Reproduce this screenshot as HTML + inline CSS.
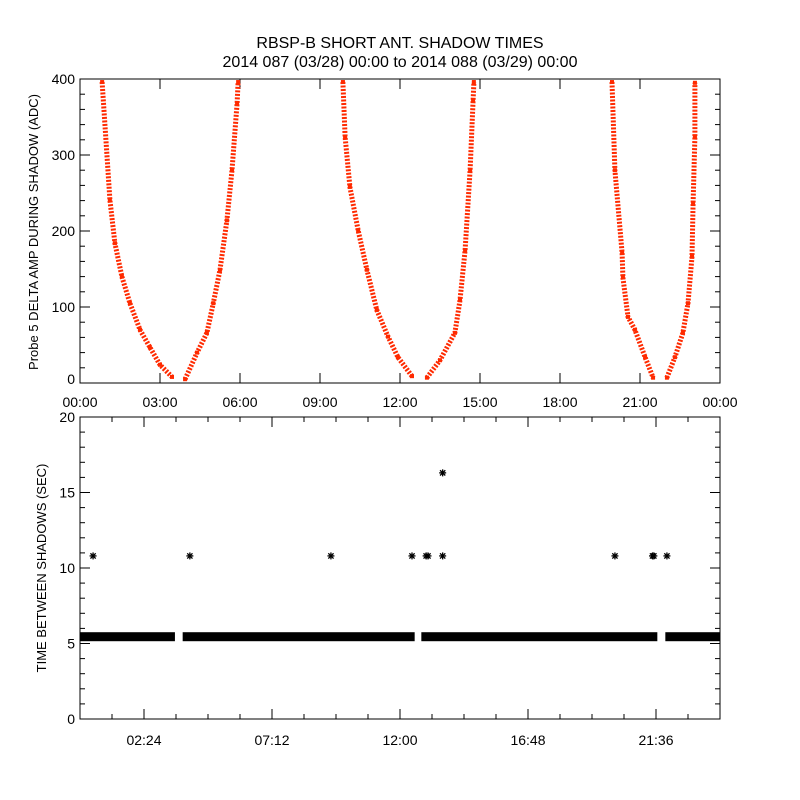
<!DOCTYPE html>
<html><head><meta charset="utf-8">
<style>
html,body{margin:0;padding:0;background:#fff;}
svg{display:block;font-family:"Liberation Sans",sans-serif;}
</style></head>
<body>
<svg id="chart" width="800" height="800" viewBox="0 0 800 800">
<rect x="0" y="0" width="800" height="800" fill="#fff"/>
<text x="400" y="48" text-anchor="middle" font-size="16" fill="#000">RBSP-B SHORT ANT. SHADOW TIMES</text>
<text x="400" y="67" text-anchor="middle" font-size="16" fill="#000">2014 087 (03/28) 00:00 to 2014 088 (03/29) 00:00</text>
<text transform="translate(38,232) rotate(-90)" text-anchor="middle" font-size="13">Probe 5 DELTA AMP DURING SHADOW (ADC)</text>
<text transform="translate(46,568) rotate(-90)" text-anchor="middle" font-size="13">TIME BETWEEN SHADOWS (SEC)</text>
<g id="topPanel"></g>
<g id="botPanel"></g>
</svg>
<script>
// ---- top panel data (hours, ADC) ----
const curve1H = [0.83,1.12,1.31,1.57,1.87,2.25,2.62,3.0,3.45];
const curve1V = [396,241,184,140,105,70,47,24,8];
const curve2H = [3.94,4.39,4.76,5.0,5.25,5.51,5.7,5.89,5.93];
const curve2V = [5,40,66,105,149,214,280,368,396];
const curve3H = [9.86,9.94,10.12,10.43,10.76,11.13,11.55,11.92,12.45];
const curve3V = [396,324,258,201,149,96,61,34,9];
const curve4H = [13.01,13.5,14.06,14.25,14.44,14.63,14.74,14.77];
const curve4V = [7,30,66,109,175,280,372,396];
const curve5H = [19.95,20.06,20.33,20.36,20.55,20.81,21.19,21.49];
const curve5V = [396,280,171,139,87,70,34,7];
const curve6H = [22.01,22.31,22.61,22.8,22.95,22.99,23.06,23.06];
const curve6V = [7,34,66,105,166,237,324,395];
const topXLabels = ["00:00","03:00","06:00","09:00","12:00","15:00","18:00","21:00","00:00"];
const topYTicks = [0,100,200,300,400];
// ---- bottom panel data ----
const bandStart = [0,3.85,12.8,21.95];
const bandEnd = [3.56,12.55,21.65,24];
const bandValue = [5.45,5.45,5.45,5.45];
const starH = [0.49,4.12,9.41,12.45,12.98,13.05,13.6,13.6,20.06,21.47,21.52,22.01];
const starV = [10.8,10.8,10.8,10.8,10.8,10.8,10.8,16.3,10.8,10.8,10.8,10.8];
const botXLabels = ["02:24","07:12","12:00","16:48","21:36"];
const botYTicks = [0,5,10,15,20];

const NS="http://www.w3.org/2000/svg";
const L=80,R=720;
function xs(h){return L+(h/24)*(R-L);}
const tT=79,tB=383; function yt(v){return tB-(v/400)*(tB-tT);}
const bT=417,bB=719; function yb(v){return bB-(v/20)*(bB-bT);}
function mk(p,tag,at){const e=document.createElementNS(NS,tag);for(const k in at)e.setAttribute(k,at[k]);p.appendChild(e);return e;}

const topG=document.getElementById('topPanel');
const botG=document.getElementById('botPanel');

function frame(g,y0,y1){
  const f=mk(g,'rect',{x:L,y:y0,width:R-L,height:y1-y0,fill:'none',stroke:'#000','stroke-width':1});
  
  
}
frame(topG,tT,tB);
frame(botG,bT,bB);

function tick(g,x1,y1,x2,y2){const t=mk(g,'line',{x1,y1,x2,y2,stroke:'#000','stroke-width':1});

}

for(let i=0;i<=24;i+=3){
  const x=xs(i);
  tick(topG,x,tB,x,tB-10);tick(topG,x,tT,x,tT+10);
}
topXLabels.forEach((s,i)=>{
  const t=mk(topG,'text',{x:xs(i*3),y:407,'text-anchor':'middle','font-size':14});
  t.textContent=s;
  
  
});
for(let v=0;v<=400;v+=20){
  const y=yt(v),len=(v%100===0)?10:5;
  tick(topG,L,y,L+len,y);tick(topG,R,y,R-len,y);
}
topYTicks.forEach(v=>{
  const t=mk(topG,'text',{x:75,y:Math.min(yt(v)+5,384),'text-anchor':'end','font-size':14});
  t.textContent=v;
  
  
});

[[curve1H,curve1V],[curve2H,curve2V],[curve3H,curve3V],[curve4H,curve4V],[curve5H,curve5V],[curve6H,curve6V]].forEach((c,ci)=>{
  const pts=c[0].map((h,i)=>xs(h).toFixed(1)+','+yt(c[1][i]).toFixed(1)).join(' ');
  const p=mk(topG,'polyline',{points:pts,fill:'none',stroke:'#ff2a00','stroke-width':5,'stroke-dasharray':'2 1.5','stroke-linejoin':'round'});
  
  
  c[0].forEach((h,i)=>{
    const d=mk(topG,'rect',{x:xs(h)-2,y:yt(c[1][i])-2,width:4,height:4,fill:'#ff2a00'});
    
    
  });
});

for(let i=0;i<=20;i++){
  const h=i*1.2,x=xs(h),len=(i%4===2)?10:5;
  tick(botG,x,bB,x,bB-len);tick(botG,x,bT,x,bT+len);
}
botXLabels.forEach((s,i)=>{
  const t=mk(botG,'text',{x:xs(2.4+i*4.8),y:745,'text-anchor':'middle','font-size':14});
  t.textContent=s;
  
  
});
for(let v=0;v<=20;v++){
  const y=yb(v),len=(v%5===0)?10:5;
  tick(botG,L,y,L+len,y);tick(botG,R,y,R-len,y);
}
botYTicks.forEach(v=>{
  const t=mk(botG,'text',{x:75,y:yb(v)+5,'text-anchor':'end','font-size':14});
  t.textContent=v;
  
  
});
bandStart.forEach((s,i)=>{
  const y=yb(bandValue[i]);
  const r=mk(botG,'rect',{x:xs(s),y:y-4.5,width:xs(bandEnd[i])-xs(s),height:9,fill:'#000'});
  
  
});
starH.forEach((h,i)=>{
  const x=xs(h),y=yb(starV[i]),s=3.5;
  const g=mk(botG,'g',{stroke:'#000','stroke-width':1.3});
  
  
  mk(g,'line',{x1:x-s,y1:y,x2:x+s,y2:y});
  mk(g,'line',{x1:x,y1:y-s,x2:x,y2:y+s});
  mk(g,'line',{x1:x-s*0.75,y1:y-s*0.75,x2:x+s*0.75,y2:y+s*0.75});
  mk(g,'line',{x1:x-s*0.75,y1:y+s*0.75,x2:x+s*0.75,y2:y-s*0.75});
});
</script>
</body></html>
